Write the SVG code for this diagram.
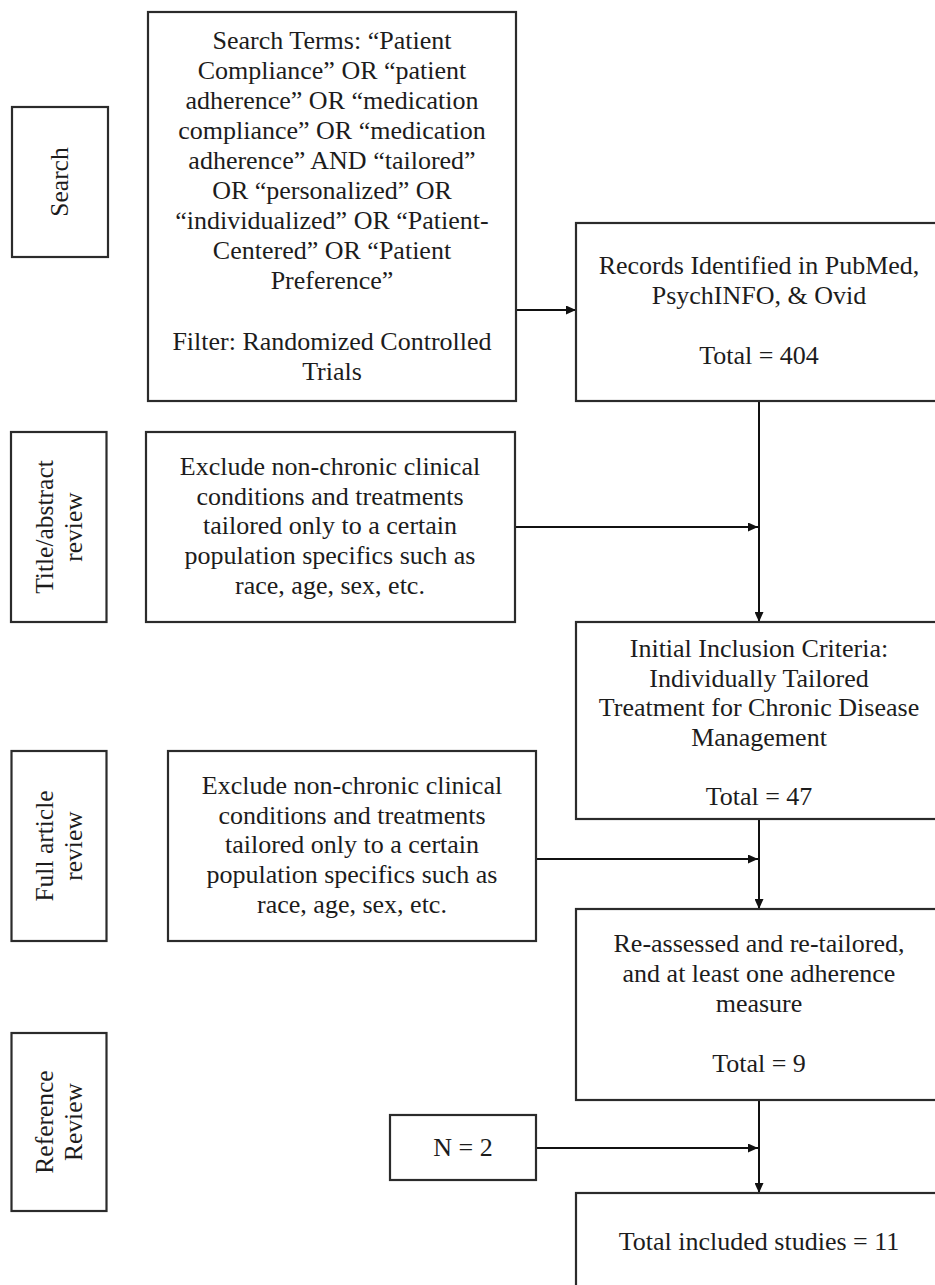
<svg xmlns="http://www.w3.org/2000/svg" width="935" height="1285" viewBox="0 0 935 1285">
<style>
.box{fill:#fff;stroke:#2b2b2b;stroke-width:2.2}
.t{font-family:"Liberation Serif","Times New Roman",serif;font-size:26px;fill:#1c1c1c;text-anchor:middle}
.l{font-family:"Liberation Serif","Times New Roman",serif;font-size:25.5px;fill:#1c1c1c;text-anchor:middle}
.c{stroke:#111;stroke-width:2;fill:none}
</style>
<defs>
<marker id="ah" markerWidth="10" markerHeight="9" refX="10" refY="4.5" orient="auto" markerUnits="userSpaceOnUse">
<path d="M0,0 L10,4.5 L0,9 Z" fill="#111"/>
</marker>
</defs>
<rect width="935" height="1285" fill="#fff"/>

<g id="connectors">
<line class="c" x1="516" y1="310" x2="576" y2="310" marker-end="url(#ah)"/>
<line class="c" x1="759" y1="401" x2="759" y2="622" marker-end="url(#ah)"/>
<line class="c" x1="515" y1="527" x2="758" y2="527" marker-end="url(#ah)"/>
<line class="c" x1="759" y1="819" x2="759" y2="909" marker-end="url(#ah)"/>
<line class="c" x1="536" y1="859" x2="758" y2="859" marker-end="url(#ah)"/>
<line class="c" x1="759" y1="1100" x2="759" y2="1193" marker-end="url(#ah)"/>
<line class="c" x1="536" y1="1148" x2="758" y2="1148" marker-end="url(#ah)"/>
</g>

<g id="label-search">
<rect class="box" x="12" y="107" width="96" height="150"/>
<text class="l" transform="translate(68,182) rotate(-90)">Search</text>
</g>
<g id="label-title">
<rect class="box" x="11" y="432" width="95.5" height="190"/>
<text class="l" transform="translate(53,527) rotate(-90)">Title/abstract</text>
<text class="l" transform="translate(82,527) rotate(-90)">review</text>
</g>
<g id="label-full">
<rect class="box" x="11.5" y="751" width="95" height="190"/>
<text class="l" transform="translate(53,846) rotate(-90)">Full article</text>
<text class="l" transform="translate(82,846) rotate(-90)">review</text>
</g>
<g id="label-reference">
<rect class="box" x="11.5" y="1033" width="95" height="178"/>
<text class="l" transform="translate(53,1122) rotate(-90)">Reference</text>
<text class="l" transform="translate(82,1122) rotate(-90)">Review</text>
</g>

<g id="search-terms">
<rect class="box" x="148" y="12" width="368" height="389"/>
<text class="t" x="332" y="49">Search Terms: “Patient</text>
<text class="t" x="332" y="79">Compliance” OR “patient</text>
<text class="t" x="332" y="109">adherence” OR “medication</text>
<text class="t" x="332" y="139">compliance” OR “medication</text>
<text class="t" x="332" y="169">adherence” AND “tailored”</text>
<text class="t" x="332" y="199">OR “personalized” OR</text>
<text class="t" x="332" y="229">“individualized” OR “Patient-</text>
<text class="t" x="332" y="259">Centered” OR “Patient</text>
<text class="t" x="332" y="289">Preference”</text>
<text class="t" x="332" y="350">Filter: Randomized Controlled</text>
<text class="t" x="332" y="380">Trials</text>
</g>

<g id="records">
<rect class="box" x="576" y="223" width="366" height="178"/>
<text class="t" x="759" y="274">Records Identified in PubMed,</text>
<text class="t" x="759" y="304">PsychINFO, &amp; Ovid</text>
<text class="t" x="759" y="364">Total = 404</text>
</g>

<g id="exclude-1">
<rect class="box" x="146" y="432" width="369" height="190"/>
<text class="t" x="330" y="475">Exclude non-chronic clinical</text>
<text class="t" x="330" y="505">conditions and treatments</text>
<text class="t" x="330" y="534">tailored only to a certain</text>
<text class="t" x="330" y="564">population specifics such as</text>
<text class="t" x="330" y="594">race, age, sex, etc.</text>
</g>

<g id="initial">
<rect class="box" x="576" y="622" width="366" height="197"/>
<text class="t" x="759" y="657">Initial Inclusion Criteria:</text>
<text class="t" x="759" y="687">Individually Tailored</text>
<text class="t" x="759" y="716">Treatment for Chronic Disease</text>
<text class="t" x="759" y="746">Management</text>
<text class="t" x="759" y="805">Total = 47</text>
</g>

<g id="exclude-2">
<rect class="box" x="168" y="751" width="368" height="190"/>
<text class="t" x="352" y="794">Exclude non-chronic clinical</text>
<text class="t" x="352" y="824">conditions and treatments</text>
<text class="t" x="352" y="853">tailored only to a certain</text>
<text class="t" x="352" y="883">population specifics such as</text>
<text class="t" x="352" y="913">race, age, sex, etc.</text>
</g>

<g id="reassessed">
<rect class="box" x="576" y="909" width="366" height="191"/>
<text class="t" x="759" y="952">Re-assessed and re-tailored,</text>
<text class="t" x="759" y="982">and at least one adherence</text>
<text class="t" x="759" y="1012">measure</text>
<text class="t" x="759" y="1072">Total = 9</text>
</g>

<g id="n2">
<rect class="box" x="390" y="1115" width="146" height="65"/>
<text class="t" x="463" y="1156">N = 2</text>
</g>

<g id="total-included">
<rect class="box" x="576" y="1193" width="366" height="110"/>
<text class="t" x="759" y="1250">Total included studies = 11</text>
</g>
</svg>
